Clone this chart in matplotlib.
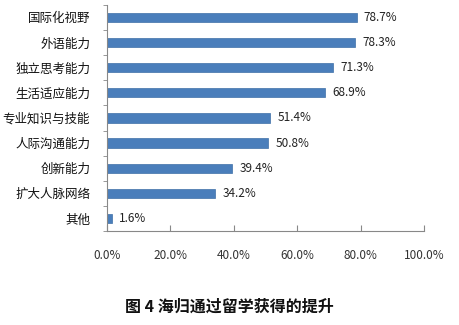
import matplotlib
matplotlib.use("Agg")
import matplotlib.pyplot as plt
import numpy as np

plt.rcParams['font.family'] = ['Noto Sans CJK SC', 'DejaVu Sans']

categories = ["国际化视野", "外语能力", "独立思考能力", "生活适应能力", "专业知识与技能",
              "人际沟通能力", "创新能力", "扩大人脉网络", "其他"]
values = [78.7, 78.3, 71.3, 68.9, 51.4, 50.8, 39.4, 34.2, 1.6]
xticks = [0, 20, 40, 60, 80, 100]
title = "图 4 海归通过留学获得的提升"

fig = plt.figure(figsize=(4.59, 3.25), dpi=100)
ax = fig.add_axes([0.233, 0.289, 0.691, 0.696])

y = np.arange(len(categories))
ax.barh(y, values, height=0.37, color="#4A7EBB", edgecolor="#3F6FA8", linewidth=0.5)
for yi, v in zip(y, values):
    ax.text(v + 2.3, yi, f"{v:.1f}%", va="center", ha="left", fontsize=8.5, color="#222222")

ax.set_ylim(len(categories) - 0.5, -0.5)
ax.set_xlim(0, 100)
ax.set_yticks(y)
ax.set_yticklabels(categories, fontsize=9, color="#111111")
ax.set_yticks(np.arange(-0.5, len(categories), 1), minor=True)
ax.tick_params(axis="y", which="major", length=0, pad=12)
ax.tick_params(axis="y", which="minor", length=3, color="#888888", direction="out")
ax.set_xticks(xticks)
ax.set_xticklabels([f"{t:.1f}%" for t in xticks], fontsize=8.5, color="#333333")
ax.tick_params(axis="x", length=4, direction="in", color="#888888", pad=13)

for s in ["top", "right"]:
    ax.spines[s].set_visible(False)
for s in ["left", "bottom"]:
    ax.spines[s].set_color("#888888")
    ax.spines[s].set_linewidth(0.8)

fig.text(0.5, 0.058, title, ha="center", va="center", fontsize=11.5, fontweight="bold", color="#111111")

fig.savefig("out.png", dpi=100, facecolor="white")
